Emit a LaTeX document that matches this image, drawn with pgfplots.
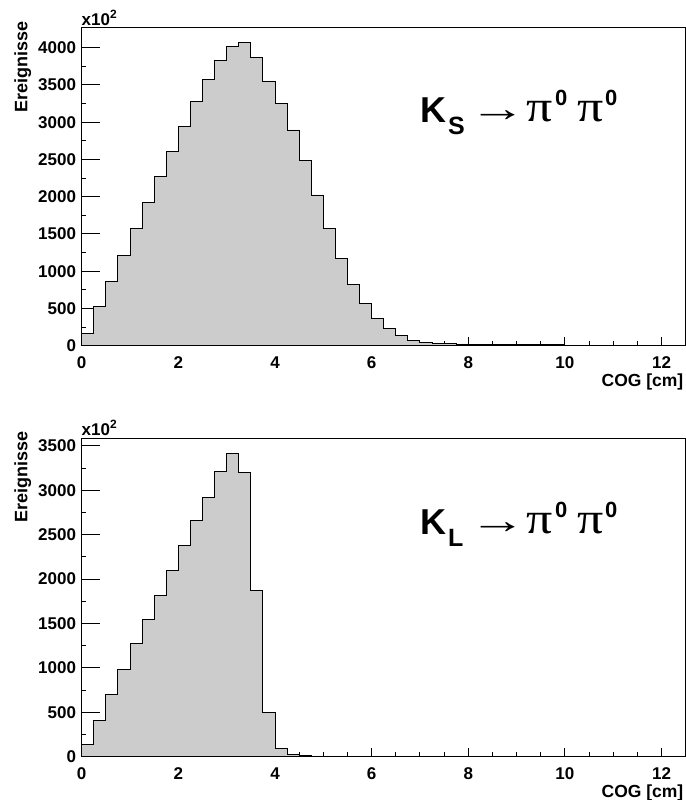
\documentclass[border=0pt]{standalone}
\usepackage{fontspec}
\setmainfont{Liberation Sans}
\newfontfamily\symf{Liberation Serif}
\usepackage{pgfplots}
\pgfplotsset{compat=1.18}
\definecolor{histfill}{HTML}{CCCCCC}

\pgfplotstableread{
x y
0.00 166
0.25 524
0.50 868
0.75 1213
1.00 1571
1.25 1925
1.50 2273
1.75 2604
2.00 2940
2.25 3280
2.50 3571
2.75 3831
3.00 4019
3.25 4067
3.50 3871
3.75 3553
4.00 3254
4.25 2895
4.50 2489
4.75 2023
5.00 1576
5.25 1168
5.50 828
5.75 569
6.00 367
6.25 228
6.50 140
6.75 67
7.00 40
7.25 32
7.50 27
7.75 23
8.00 20
8.25 19
8.50 18
8.75 17
9.00 16
9.25 15
9.50 14
9.75 13
10.00 3
10.25 2
10.50 1
10.75 1
11.00 1
11.25 1
11.50 0
11.75 0
12.00 0
12.25 0
12.50 0
}\ksdata

\pgfplotstableread{
x y
0.00 140
0.25 413
0.50 698
0.75 984
1.00 1273
1.25 1547
1.50 1818
1.75 2099
2.00 2384
2.25 2662
2.50 2921
2.75 3209
3.00 3417
3.25 3203
3.50 1877
3.75 495
4.00 90
4.25 30
4.50 15
4.75 8
5.00 3
5.25 1
5.50 0
6.00 0
12.50 0
}\kldata

\pgfplotsset{
  rootstyle/.style={
    scale only axis,
    width=604pt,
    xmin=0, xmax=12.5,
    ymin=0,
    axis line style={line width=1.1pt},
    tick align=inside,
    xtick={0,2,4,6,8,10,12},
    minor x tick num=3,
    minor y tick num=1,
    major tick length=9pt,
    minor tick length=4.5pt,
    y tick style={/pgfplots/major tick length=18pt},
    tick style={line width=1pt, black},
    xtick pos=bottom, ytick pos=left,
    scaled y ticks=false,
    /pgf/number format/assume math mode=true,
    /pgf/number format/set thousands separator={},
    tick label style={font=\fontsize{17}{18}\selectfont\bfseries, inner sep=0pt},
    yticklabel style={anchor=east, xshift=-5.5pt},
    xticklabel style={anchor=north, yshift=-11pt},
    clip=false,
  }
}

\tikzset{lab/.style={anchor=base west, inner sep=0pt}}
% decay label: #1 = subscript letter, #2 = baseline y of K
\newcommand{\decay}[2]{%
  \node[lab, font=\fontsize{36}{38}\selectfont\bfseries] at (420pt,#2) {K};
  \node[lab, font=\fontsize{25}{26}\selectfont\bfseries] at ([yshift=-11.6pt]448pt,#2) {#1};
  \node[lab, font=\symf\fontsize{38}{40}\selectfont] at ([yshift=1.5pt]469pt,#2) {\scalebox{1.5}[1]{→}};
  \node[lab, font=\symf\fontsize{40}{40}\selectfont] at ([yshift=1pt]526pt,#2) {\scalebox{1.3}[1.1]{π}};
  \node[lab, font=\fontsize{22}{22}\selectfont\bfseries] at ([yshift=17pt]555pt,#2) {0};
  \node[lab, font=\symf\fontsize{40}{40}\selectfont] at ([yshift=1pt]577pt,#2) {\scalebox{1.3}[1.1]{π}};
  \node[lab, font=\fontsize{22}{22}\selectfont\bfseries] at ([yshift=17pt]605pt,#2) {0};
}

\begin{document}
\begin{tikzpicture}[x=1pt,y=1pt]
\useasboundingbox (0pt,0pt) rectangle (685pt,800pt);

% top panel
\begin{axis}[rootstyle, at={(81.7pt,454.3pt)}, anchor=south west, height=318pt, ymax=4268,
  ytick={0,500,1000,1500,2000,2500,3000,3500,4000}]
\addplot[const plot, fill=histfill, draw=black, line width=0.9pt] table[x=x,y=y] {\ksdata} \closedcycle;
\end{axis}

% bottom panel
\begin{axis}[rootstyle, at={(81.7pt,43.3pt)}, anchor=south west, height=318.4pt, ymax=3586,
  ytick={0,500,1000,1500,2000,2500,3000,3500}]
\addplot[const plot, fill=histfill, draw=black, line width=0.9pt] table[x=x,y=y] {\kldata} \closedcycle;
\end{axis}

% y titles
\node[rotate=90, anchor=base east, inner sep=0pt, font=\fontsize{18}{18}\selectfont\bfseries] at (27.3pt,778.3pt) {Ereignisse};
\node[rotate=90, anchor=base east, inner sep=0pt, font=\fontsize{18}{18}\selectfont\bfseries] at (27.3pt,368.3pt) {Ereignisse};

% x titles
\node[anchor=base east, inner sep=0pt, font=\fontsize{17.5}{18}\selectfont\bfseries] at (683.5pt,413.7pt) {COG [cm]};
\node[anchor=base east, inner sep=0pt, font=\fontsize{17.5}{18}\selectfont\bfseries] at (683.5pt,2.7pt) {COG [cm]};

% exponent labels
\node[anchor=base west, inner sep=0pt, font=\fontsize{17}{18}\selectfont\bfseries] at (81.5pt,774.3pt) {x10\raisebox{7pt}{\fontsize{12}{12}\selectfont 2}};
\node[anchor=base west, inner sep=0pt, font=\fontsize{17}{18}\selectfont\bfseries] at (81.5pt,364.5pt) {x10\raisebox{7pt}{\fontsize{12}{12}\selectfont 2}};

% annotations
\decay{S}{677.3pt}
\decay{L}{265.3pt}
\end{tikzpicture}
\end{document}
